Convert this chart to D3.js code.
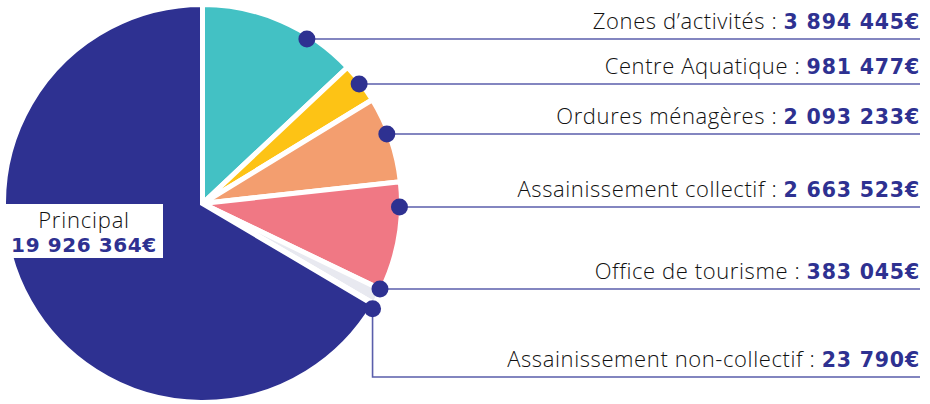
<!DOCTYPE html>
<html>
<head>
<meta charset="utf-8">
<script src="https://cdn.jsdelivr.net/npm/d3@7"></script>
<style>
  body { margin: 0; background: #fff; }
  .name { font-family: "Open Sans", Roboto, sans-serif; font-weight: 300; fill: #111; letter-spacing: 0.6px; }
  .num { font-family: "DejaVu Sans", sans-serif; font-weight: bold; fill: #2e3191; letter-spacing: 0.8px; }
</style>
</head>
<body>
<div id="chart"></div>
<script>
// budgets (en euros), dans l'ordre des parts du camembert
var names = ["Zones d\u2019activités", "Centre Aquatique", "Ordures ménagères",
             "Assainissement collectif", "Office de tourisme",
             "Assainissement non-collectif", "Principal"];
var values = [3894445, 981477, 2093233, 2663523, 383045, 23790, 19926364];
var colors = ["#43c1c4", "#fdc315", "#f39e6f", "#f07884", "#e8e9f0", "#e8e9f0", "#2e3191"];

// hauteur des traits de légende (un par budget annexe)
var labelY = [39, 84, 134, 207, 289, 377];

var width = 930, height = 404,
    cx = 202.5, cy = 203.5, radius = 199,
    lineEnd = 920;

var fmt = function(v) {
    return String(v).replace(/\B(?=(\d{3})+(?!\d))/g, "\u00a0") + "€";
};

var svg = d3.select("#chart").append("svg")
    .attr("width", width)
    .attr("height", height);

var pie = d3.pie().sort(null).value(function(d) { return d; });
var arcs = pie(values);
var arc = d3.arc().innerRadius(0).outerRadius(radius);

var g = svg.append("g").attr("transform", "translate(" + cx + "," + cy + ")");

g.selectAll("path.slice")
    .data(arcs)
    .enter().append("path")
    .attr("class", "slice")
    .attr("d", arc)
    .style("fill", function(d, i) { return colors[i]; })
    .style("stroke", "#fff")
    .style("stroke-width", 5)
    .style("stroke-linejoin", "miter");

// leaders: dot on the rim, then a line out to the right
var dotR = 197;
var leaders = arcs.slice(0, 6).map(function(d, i) {
    var y = labelY[i] - cy, x;
    if (i < 5) {
        x = Math.sqrt(dotR * dotR - y * y);
        if (i == 0) x -= 4;
        return { x: x, y: y, ly: y };
    }
    var a = d.endAngle + 0.02;
    return { x: 200 * Math.sin(a), y: -200 * Math.cos(a), ly: y };
});

g.selectAll("path.leader")
    .data(leaders)
    .enter().append("path")
    .attr("class", "leader")
    .attr("d", function(d) {
        return "M" + d.x + "," + d.y + "V" + d.ly + "H" + (lineEnd - cx);
    })
    .style("fill", "none")
    .style("stroke", "#5a5eab")
    .style("stroke-width", 1.6);

g.selectAll("circle.dot")
    .data(leaders)
    .enter().append("circle")
    .attr("class", "dot")
    .attr("cx", function(d) { return d.x; })
    .attr("cy", function(d) { return d.y; })
    .attr("r", 8.5)
    .style("fill", "#2e3191");

var labels = svg.selectAll("text.label")
    .data(leaders)
    .enter().append("text")
    .attr("class", "label")
    .attr("x", lineEnd)
    .attr("y", function(d) { return d.ly + cy - 10; })
    .attr("text-anchor", "end");

labels.append("tspan")
    .attr("class", "name")
    .style("font-size", "22px")
    .text(function(d, i) { return names[i] + "\u00a0: "; });

labels.append("tspan")
    .attr("class", "num")
    .style("font-size", "20.5px")
    .text(function(d, i) { return fmt(values[i]); });

// Principal, dans un cartouche blanc
var p = svg.append("g").attr("transform", "translate(84,0)");
var pbox = p.append("rect").style("fill", "#fff");
p.append("text")
    .attr("class", "name")
    .attr("text-anchor", "middle")
    .attr("y", 228)
    .style("font-size", "22px")
    .style("letter-spacing", "0.8px")
    .text(names[6]);
p.append("text")
    .attr("class", "num")
    .attr("text-anchor", "middle")
    .attr("y", 252)
    .style("font-size", "20px")
    .style("letter-spacing", "0.6px")
    .text(fmt(values[6]));

pbox.attr("x", -79).attr("y", 204).attr("width", 158).attr("height", 54);
</script>
</body>
</html>
